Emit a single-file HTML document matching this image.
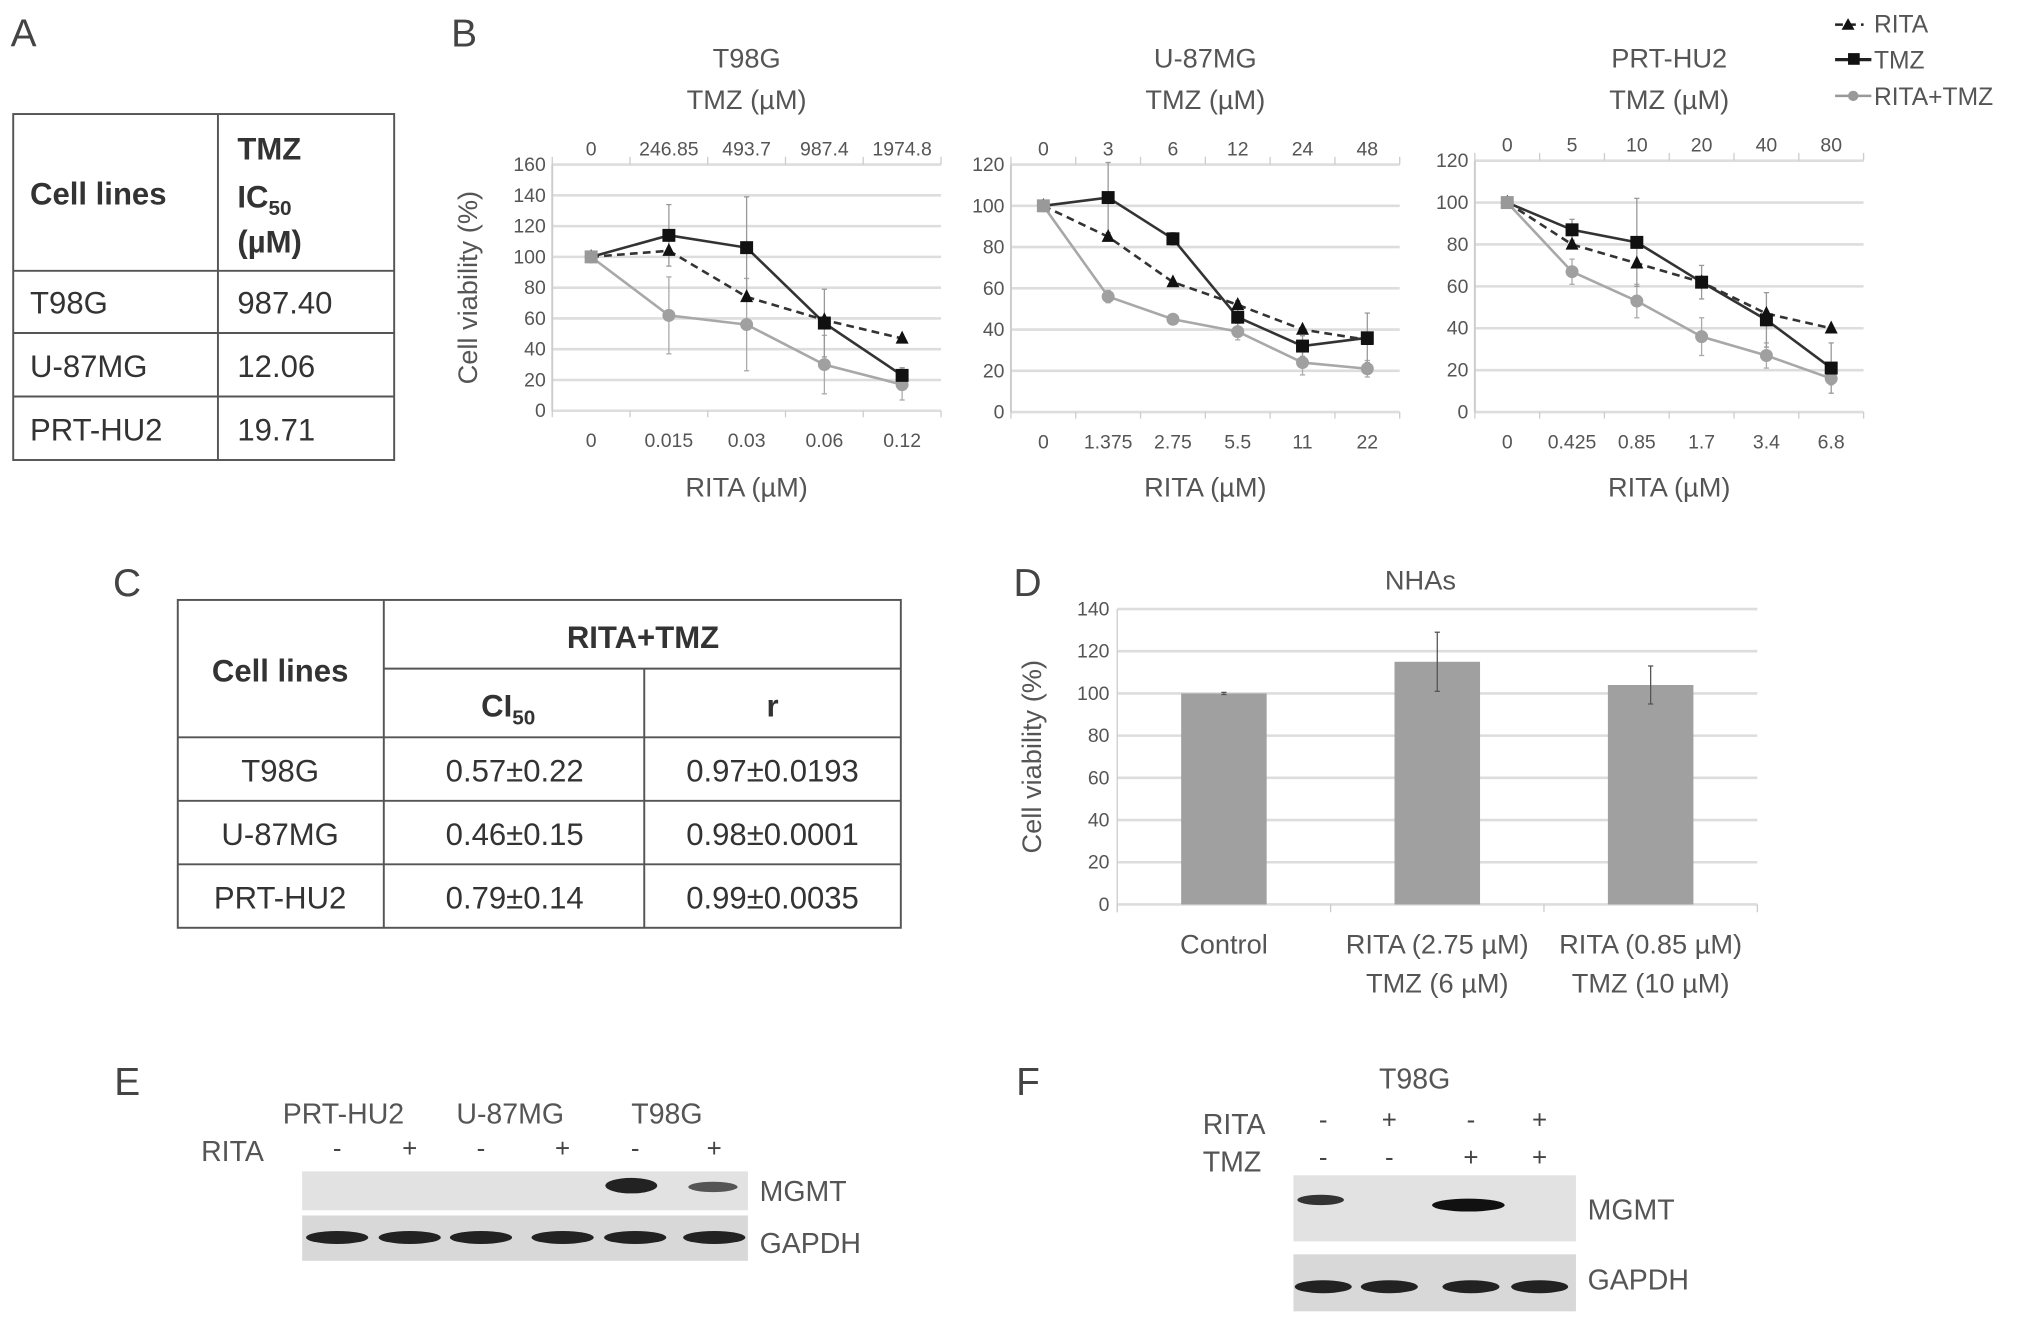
<!DOCTYPE html>
<html><head><meta charset="utf-8"><style>
html,body{margin:0;padding:0;background:#fff}
svg{display:block;font-family:"Liberation Sans",Arial,sans-serif}
</style></head><body>
<svg id="fig" width="2031" height="1323" viewBox="0 0 1567 1021" xmlns="http://www.w3.org/2000/svg">
<rect width="1567" height="1021" fill="#fff"/>
<g fill="#444" font-size="30">
<text x="8" y="36">A</text>
<text x="348" y="36">B</text>
<text x="87" y="460">C</text>
<text x="782" y="460">D</text>
<text x="88" y="845">E</text>
<text x="784" y="845">F</text>
</g>
<g stroke="#555" stroke-width="1.5" fill="none">
<rect x="10" y="88" width="294" height="267"/>
<line x1="168" y1="88" x2="168" y2="355"/>
<line x1="10" y1="209" x2="304" y2="209"/><line x1="10" y1="257" x2="304" y2="257"/><line x1="10" y1="306" x2="304" y2="306"/>
</g>
<g fill="#333" font-size="24">
<text x="23" y="158" font-weight="bold">Cell lines</text>
<text x="183" y="123" font-weight="bold">TMZ</text>
<text x="183" y="160" font-weight="bold">IC<tspan font-size="16" dy="6">50</tspan></text>
<text x="183" y="195" font-weight="bold">(µM)</text>
<text x="23" y="242">T98G</text><text x="183" y="242">987.40</text>
<text x="23" y="291">U-87MG</text><text x="183" y="291">12.06</text>
<text x="23" y="340">PRT-HU2</text><text x="183" y="340">19.71</text>
</g>
<g stroke="#555" stroke-width="1.5" fill="none">
<rect x="137" y="463" width="558" height="253"/>
<line x1="296" y1="463" x2="296" y2="716"/><line x1="497" y1="516" x2="497" y2="716"/>
<line x1="296" y1="516" x2="695" y2="516"/>
<line x1="137" y1="569" x2="695" y2="569"/><line x1="137" y1="618" x2="695" y2="618"/><line x1="137" y1="667" x2="695" y2="667"/>
</g>
<g fill="#333" font-size="24" text-anchor="middle">
<text x="216" y="526" font-weight="bold">Cell lines</text>
<text x="496" y="500" font-weight="bold">RITA+TMZ</text>
<text x="392" y="553" font-weight="bold">CI<tspan font-size="16" dy="6">50</tspan></text>
<text x="596" y="553" font-weight="bold">r</text>
<text x="216" y="603">T98G</text><text x="397" y="603">0.57±0.22</text><text x="596" y="603">0.97±0.0193</text>
<text x="216" y="652">U-87MG</text><text x="397" y="652">0.46±0.15</text><text x="596" y="652">0.98±0.0001</text>
<text x="216" y="701">PRT-HU2</text><text x="397" y="701">0.79±0.14</text><text x="596" y="701">0.99±0.0035</text>
</g>
<g id="charts"></g>
<g font-size="19" fill="#555">
<line x1="1416" y1="19" x2="1438" y2="19" stroke="#222" stroke-width="2" stroke-dasharray="6,4"/><polygon points="1426,14 1431,23 1421,23" fill="#111"/><text x="1446" y="25">RITA</text>
<line x1="1416" y1="46" x2="1444" y2="46" stroke="#222" stroke-width="2.5"/><rect x="1426" y="41" width="9" height="9" fill="#111"/><text x="1446" y="53">TMZ</text>
<line x1="1416" y1="74" x2="1444" y2="74" stroke="#999" stroke-width="2"/><circle cx="1430" cy="74" r="4" fill="#999"/><text x="1446" y="81">RITA+TMZ</text>
</g>
<g>
<g fill="#555" font-size="22">
<text x="218" y="867">PRT-HU2</text><text x="352" y="867">U-87MG</text><text x="487" y="867">T98G</text>
<text x="155" y="896">RITA</text>
<text x="586" y="927">MGMT</text><text x="586" y="967">GAPDH</text>
</g>
<g fill="#444" font-size="20" text-anchor="middle" id="esigns"></g>
<rect x="233" y="904" width="344" height="30" fill="#e2e2e2"/>
<rect x="233" y="938" width="344" height="35" fill="#d8d8d8"/>
<ellipse cx="487" cy="915" rx="20" ry="6" fill="#222"/><ellipse cx="550" cy="916" rx="19" ry="4" fill="#555"/>
<g fill="#222" id="egapdh"></g>
</g>
<g>
<g fill="#555" font-size="22">
<text x="1064" y="840">T98G</text><text x="928" y="875">RITA</text><text x="928" y="904">TMZ</text>
<text x="1225" y="941">MGMT</text><text x="1225" y="995">GAPDH</text>
</g>
<g fill="#444" font-size="20" text-anchor="middle" id="fsigns"></g>
<rect x="998" y="907" width="218" height="51" fill="#e2e2e2"/>
<rect x="998" y="968" width="218" height="44" fill="#d8d8d8"/>
<ellipse cx="1019" cy="926" rx="18" ry="4" fill="#333"/><ellipse cx="1133" cy="930" rx="28" ry="5" fill="#111"/>
<g fill="#222" id="fgapdh"></g>
</g>
</svg>
<script>
const t98Tmz = ["0","246.85","493.7","987.4","1974.8"];
const t98Rita = ["0","0.015","0.03","0.06","0.12"];
const t98RitaVals = [100,104,74,59,47];
const t98TmzVals = [100,114,106,57,23];
const t98ComboVals = [100,62,56,30,17];
const t98ComboErr = [0,25,30,19,10];
const t98TmzErr = [0,20,33,22,5];
const u87Tmz = ["0","3","6","12","24","48"];
const u87Rita = ["0","1.375","2.75","5.5","11","22"];
const u87RitaVals = [100,85,63,52,40,35];
const u87TmzVals = [100,104,84,46,32,36];
const u87ComboVals = [100,56,45,39,24,21];
const u87ComboErr = [0,3,2,4,6,4];
const u87TmzErr = [0,17,3,8,5,12];
const prtTmz = ["0","5","10","20","40","80"];
const prtRita = ["0","0.425","0.85","1.7","3.4","6.8"];
const prtRitaVals = [100,80,71,62,47,40];
const prtTmzVals = [100,87,81,62,44,21];
const prtComboVals = [100,67,53,36,27,16];
const prtComboErr = [0,6,8,9,6,3];
const prtTmzErr = [0,5,21,8,13,12];
const nhaCats = ["Control","RITA (2.75 µM)|TMZ (6 µM)","RITA (0.85 µM)|TMZ (10 µM)"];
const nhaVals = [100,115,104];
const nhaErr = [0.5,14,9];
const nhaTicks = [0,20,40,60,80,100,120,140];

const NS="http://www.w3.org/2000/svg";
const root=document.getElementById('charts');
function mk(tag,attrs,parent,text){const e=document.createElementNS(NS,tag);for(const k in attrs)e.setAttribute(k,attrs[k]);if(text!==undefined)e.textContent=text;(parent||root).appendChild(e);return e;}

function lineChart(cfg){
  const g=mk('g',{});
  
  
  const n=cfg.tmz.length, band=(cfg.x1-cfg.x0)/n;
  const xs=i=>cfg.x0+band*(i+0.5);
  const ys=v=>cfg.y0-(v/cfg.ymax)*(cfg.y0-cfg.yTop);
  for(let t=0;t<=cfg.ymax;t+=20){
    mk('line',{x1:cfg.x0,x2:cfg.x1,y1:ys(t),y2:ys(t),stroke:'#ddd','stroke-width':2},g);
    const tl=mk('text',{x:cfg.x0-5,y:ys(t)+5,'text-anchor':'end','font-size':15,fill:'#555'},g,String(t));
    
    
  }
  mk('line',{x1:cfg.x0,x2:cfg.x0,y1:cfg.yTop,y2:cfg.y0,stroke:'#ccc','stroke-width':1.5},g);
  for(let i=0;i<=n;i++){const x=cfg.x0+band*i;mk('line',{x1:x,x2:x,y1:cfg.y0,y2:cfg.y0+5,stroke:'#ccc'},g);mk('line',{x1:x,x2:x,y1:cfg.yTop-6,y2:cfg.yTop,stroke:'#ccc'},g);}
  for(let i=0;i<n;i++){
    const a=mk('text',{x:xs(i),y:cfg.yTop-7,'text-anchor':'middle','font-size':15,fill:'#555'},g,cfg.tmz[i]);
    
    
    const b=mk('text',{x:xs(i),y:cfg.y0+28,'text-anchor':'middle','font-size':15,fill:'#555'},g,cfg.rita[i]);
    
    
  }
  const cx=(cfg.x0+cfg.x1)/2;
  const t1=mk('text',{x:cx,y:52,'text-anchor':'middle','font-size':21,fill:'#555'},g,cfg.title);
  
  
  const t2=mk('text',{x:cx,y:84,'text-anchor':'middle','font-size':21,fill:'#555'},g,'TMZ (µM)');
  
  
  const t3=mk('text',{x:cx,y:383,'text-anchor':'middle','font-size':21,fill:'#555'},g,'RITA (µM)');
  
  
  if(cfg.ylabel){const yl=mk('text',{transform:`translate(368,${(cfg.y0+cfg.yTop)/2}) rotate(-90)`,'text-anchor':'middle','font-size':21,fill:'#555'},g,'Cell viability (%)');
    
    }
  function errs(vals,err,col){vals.forEach((v,i)=>{if(!err[i])return;const x=xs(i);mk('line',{x1:x,x2:x,y1:ys(v+err[i]),y2:ys(v-err[i]),stroke:col,'stroke-width':1},g);mk('line',{x1:x-2,x2:x+2,y1:ys(v+err[i]),y2:ys(v+err[i]),stroke:col},g);mk('line',{x1:x-2,x2:x+2,y1:ys(v-err[i]),y2:ys(v-err[i]),stroke:col},g);});}
  errs(cfg.combo,cfg.comboErr,'#aaa');errs(cfg.tmzV,cfg.tmzErr,'#999');
  const pts=vals=>vals.map((v,i)=>xs(i)+','+ys(v)).join(' ');
  const lc=mk('polyline',{points:pts(cfg.combo),fill:'none',stroke:'#a8a8a8','stroke-width':2},g);
  
  
  const lr=mk('polyline',{points:pts(cfg.ritaV),fill:'none',stroke:'#333','stroke-width':2,'stroke-dasharray':'6,4'},g);
  
  
  const lt=mk('polyline',{points:pts(cfg.tmzV),fill:'none',stroke:'#333','stroke-width':2},g);
  
  
  cfg.combo.forEach((v,i)=>{const c=mk('circle',{cx:xs(i),cy:ys(v),r:5,fill:'#a0a0a0'},g);
    
    });
  cfg.ritaV.forEach((v,i)=>{const x=xs(i),y=ys(v);const p=mk('polygon',{points:`${x},${y-6} ${x+5},${y+4} ${x-5},${y+4}`,fill:'#111'},g);
    
    });
  cfg.tmzV.forEach((v,i)=>{const r=mk('rect',{x:xs(i)-5,y:ys(v)-5,width:10,height:10,fill:i?'#111':'#999'},g);
    
    });
}
lineChart({name:'chart-t98g',title:'T98G',tmz:t98Tmz,rita:t98Rita,ritaV:t98RitaVals,tmzV:t98TmzVals,combo:t98ComboVals,comboErr:t98ComboErr,tmzErr:t98TmzErr,x0:426,x1:726,y0:317,yTop:127,ymax:160,ylabel:true});
lineChart({name:'chart-u87mg',title:'U-87MG',tmz:u87Tmz,rita:u87Rita,ritaV:u87RitaVals,tmzV:u87TmzVals,combo:u87ComboVals,comboErr:u87ComboErr,tmzErr:u87TmzErr,x0:780,x1:1080,y0:318,yTop:127,ymax:120});
lineChart({name:'chart-prt-hu2',title:'PRT-HU2',tmz:prtTmz,rita:prtRita,ritaV:prtRitaVals,tmzV:prtTmzVals,combo:prtComboVals,comboErr:prtComboErr,tmzErr:prtTmzErr,x0:1138,x1:1438,y0:318,yTop:124,ymax:120});

(function(){
  const g=mk('g',{});
  
  
  const x0=862,x1=1356,y0=698,yTop=470,ymax=140;
  const band=(x1-x0)/nhaCats.length;
  const ys=v=>y0-v/ymax*(y0-yTop);
  nhaTicks.forEach(t=>{mk('line',{x1:x0,x2:x1,y1:ys(t),y2:ys(t),stroke:'#ddd','stroke-width':2},g);
    const tl=mk('text',{x:x0-6,y:ys(t)+5,'text-anchor':'end','font-size':15,fill:'#555'},g,String(t));
    
    });
  mk('line',{x1:x0,x2:x0,y1:yTop,y2:y0+6,stroke:'#ccc'},g);
  for(let i=0;i<=nhaCats.length;i++){const x=x0+band*i;mk('line',{x1:x,x2:x,y1:y0,y2:y0+6,stroke:'#ccc'},g);}
  const t=mk('text',{x:1096,y:455,'text-anchor':'middle','font-size':21,fill:'#555'},g,'NHAs');
  
  
  const yl=mk('text',{transform:`translate(803,${(y0+yTop)/2}) rotate(-90)`,'text-anchor':'middle','font-size':21,fill:'#555'},g,'Cell viability (%)');
  
  
  nhaVals.forEach((v,i)=>{const cx=x0+band*(i+0.5);
    const b=mk('rect',{x:cx-33,y:ys(v),width:66,height:y0-ys(v),fill:'#a0a0a0'},g);
    
    
    const e=nhaErr[i];
    mk('line',{x1:cx,x2:cx,y1:ys(v+e),y2:ys(v-e),stroke:'#555'},g);
    mk('line',{x1:cx-2,x2:cx+2,y1:ys(v+e),y2:ys(v+e),stroke:'#555'},g);
    mk('line',{x1:cx-2,x2:cx+2,y1:ys(v-e),y2:ys(v-e),stroke:'#555'},g);
    nhaCats[i].split('|').forEach((ln,j)=>{const tx=mk('text',{x:cx,y:736+j*30,'text-anchor':'middle','font-size':21,fill:'#555'},g,ln);
      
      });
  });
})();

const eLanes=[260,316,371,434,490,551];
const eSigns=['-','+','-','+','-','+'];
const es=document.getElementById('esigns'), eg=document.getElementById('egapdh');
eLanes.forEach((x,i)=>{mk('text',{x:x,y:893},es,eSigns[i]);mk('ellipse',{cx:x,cy:955,rx:24,ry:5},eg);});
const fLanes=[1021,1072,1135,1188];
const fRita=['-','+','-','+'], fTmz=['-','-','+','+'];
const fs=document.getElementById('fsigns'), fg=document.getElementById('fgapdh');
fLanes.forEach((x,i)=>{mk('text',{x:x,y:871},fs,fRita[i]);mk('text',{x:x,y:900},fs,fTmz[i]);mk('ellipse',{cx:x,cy:993,rx:22,ry:5},fg);});
</script>
</body></html>
